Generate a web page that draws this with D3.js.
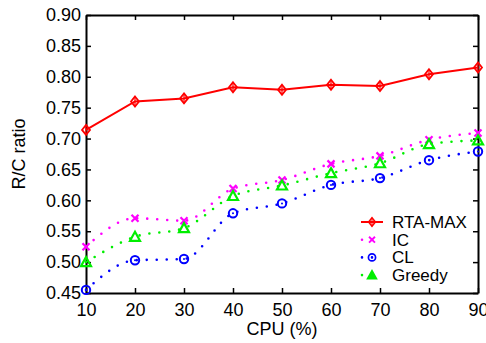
<!DOCTYPE html>
<html>
<head>
<meta charset="utf-8">
<script src="https://cdn.jsdelivr.net/npm/d3@7"></script>
<style>
  body { margin: 0; background: #fff; }
  text { font-family: "Liberation Sans", Arial, sans-serif; fill: #000; }
</style>
</head>
<body>
<svg id="chart" width="486" height="343"></svg>
<script>
const cpu = [10, 20, 30, 40, 50, 60, 70, 80, 90];
const rtaMax = [0.714, 0.760, 0.765, 0.783, 0.779, 0.787, 0.785, 0.804, 0.815];
const ic = [0.525, 0.571, 0.567, 0.619, 0.633, 0.659, 0.672, 0.698, 0.709];
const cl = [0.455, 0.503, 0.505, 0.579, 0.595, 0.625, 0.636, 0.665, 0.679];
const greedy = [0.500, 0.541, 0.555, 0.607, 0.624, 0.644, 0.660, 0.691, 0.697];
const yTicks = [0.45, 0.50, 0.55, 0.60, 0.65, 0.70, 0.75, 0.80, 0.85, 0.90];

const series = [
  { name: "RTA-MAX", values: rtaMax, color: "#ff0000", marker: "diamond", dotted: false },
  { name: "IC", values: ic, color: "#ff00ff", marker: "x", dotted: true },
  { name: "CL", values: cl, color: "#0000ff", marker: "circle", dotted: true },
  { name: "Greedy", values: greedy, color: "#00ee00", marker: "triangle", dotted: true }
];

const margin = { top: 15, right: 8, bottom: 50, left: 86 };
const width = 486 - margin.left - margin.right;
const height = 343 - margin.top - margin.bottom;

const svg = d3.select("#chart");
const g = svg.append("g").attr("transform", `translate(${margin.left},${margin.top})`);

const x = d3.scaleLinear().domain([10, 90]).range([0, width]);
const y = d3.scaleLinear().domain([0.45, 0.90]).range([height, 0]);

// axes with inward ticks
const styleAxis = (sel) => {
  sel.select(".domain").attr("stroke", "#000").attr("stroke-width", 2);
  sel.selectAll(".tick line").attr("stroke", "#000").attr("stroke-width", 1.5);
  sel.selectAll("text").attr("font-size", "18px");
};

g.append("g")
  .attr("transform", `translate(0,${height})`)
  .call(d3.axisBottom(x).tickValues(cpu).tickSizeInner(-5).tickSizeOuter(0).tickPadding(10))
  .call(styleAxis);

g.append("g")
  .call(d3.axisLeft(y).tickValues(yTicks).tickFormat(d3.format(".2f")).tickSizeInner(-5).tickSizeOuter(0).tickPadding(5))
  .call(styleAxis);

g.append("g")
  .call(d3.axisTop(x).tickValues(cpu).tickSizeInner(-5).tickSizeOuter(0).tickFormat(""))
  .call(styleAxis);

g.append("g")
  .attr("transform", `translate(${width},0)`)
  .call(d3.axisRight(y).tickValues(yTicks).tickSizeInner(-5).tickSizeOuter(0).tickFormat(""))
  .call(styleAxis);

// axis titles
svg.append("text")
  .attr("x", margin.left + width / 2)
  .attr("y", 335)
  .attr("text-anchor", "middle")
  .attr("font-size", "18px")
  .text("CPU (%)");

svg.append("text")
  .attr("transform", `translate(25,${margin.top + height / 2}) rotate(-90)`)
  .attr("text-anchor", "middle")
  .attr("font-size", "18px")
  .text("R/C ratio");

function drawMarker(sel, type, color, scale = 1) {
  const k = sel.append("g").attr("transform", `scale(${scale})`);
  if (type === "diamond") {
    k.append("path").attr("d", "M0,-5L4,0L0,5L-4,0Z")
      .attr("fill", "none").attr("stroke", color).attr("stroke-width", 1.8);
    k.append("path").attr("d", "M0,-5V5")
      .attr("stroke", color).attr("stroke-width", 1.2);
  } else if (type === "x") {
    k.append("path").attr("d", "M-3.5,-3.5L3.5,3.5M-3.5,3.5L3.5,-3.5")
      .attr("stroke", color).attr("stroke-width", 2.2);
  } else if (type === "circle") {
    k.append("circle").attr("r", 4.2)
      .attr("fill", "none").attr("stroke", color).attr("stroke-width", 2);
    k.append("circle").attr("r", 1).attr("fill", color);
  } else if (type === "triangle") {
    k.append("path").attr("d", "M0,-5L5,4H-5Z")
      .attr("fill", scale < 1 ? color : "none").attr("stroke", color).attr("stroke-width", 2.2);
  }
}

series.forEach((s) => {
  const pts = cpu.map((c, i) => [c, s.values[i]]);
  const line = d3.line()
    .x((d) => x(d[0]))
    .y((d) => y(d[1]))
    .curve(s.dotted ? d3.curveMonotoneX : d3.curveLinear);
  const path = g.append("path")
    .datum(pts)
    .attr("d", line)
    .attr("fill", "none")
    .attr("stroke", s.color);
  if (s.dotted) {
    path.attr("stroke-width", 2.6).attr("stroke-dasharray", "0,10").attr("stroke-linecap", "round");
  } else {
    path.attr("stroke-width", 2);
  }
  g.selectAll(null)
    .data(pts)
    .join("g")
    .attr("transform", (d) => `translate(${x(d[0])},${y(d[1])})`)
    .each(function () { drawMarker(d3.select(this), s.marker, s.color); });
});

// legend
const legend = svg.append("g").attr("transform", "translate(361,222)");
series.forEach((s, i) => {
  const row = legend.append("g").attr("transform", `translate(0,${i * 17.7})`);
  const seg = row.append("path").attr("d", "M0,0H22").attr("fill", "none").attr("stroke", s.color);
  if (s.dotted) {
    seg.attr("d", "M1,0H12").attr("stroke-width", 2.6).attr("stroke-dasharray", "0,10").attr("stroke-linecap", "round");
  } else {
    seg.attr("stroke-width", 2);
  }
  const m = row.append("g").attr("transform", "translate(11,0)");
  drawMarker(m, s.marker, s.color, 0.85);
  row.append("text")
    .attr("x", 31)
    .attr("y", 6)
    .attr("font-size", "17px")
    .text(s.name);
});
</script>
</body>
</html>
